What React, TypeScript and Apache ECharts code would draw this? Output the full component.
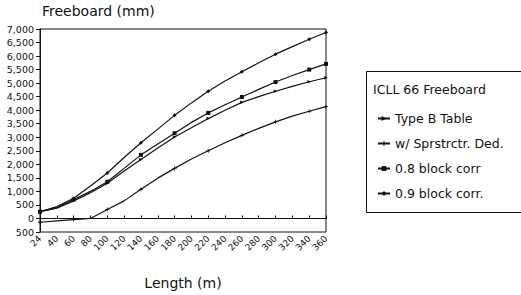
import React, { useEffect, useRef } from "react";
import * as echarts from "echarts";

const categories = ["24", "40", "60", "80", "100", "120", "140", "160", "180", "200", "220", "240", "260", "280", "300", "320", "340", "360"];
const typeBTable = [250, 380, 650, 950, 1300, 1750, 2180, 2600, 3010, 3350, 3690, 4000, 4290, 4500, 4700, 4880, 5050, 5200];
const sprstrctrDed = [-140, -90, -40, 0, 330, 650, 1080, 1490, 1850, 2200, 2500, 2800, 3070, 3330, 3570, 3780, 3960, 4130];
const block08 = [250, 400, 700, 1000, 1360, 1850, 2350, 2750, 3150, 3550, 3900, 4200, 4490, 4770, 5040, 5280, 5500, 5710];
const block09 = [250, 440, 750, 1200, 1680, 2250, 2800, 3300, 3810, 4270, 4700, 5080, 5420, 5750, 6070, 6350, 6620, 6870];

const FONT = "DejaVu Sans";
const INK = "#111";

export default function App() {
  const ref = useRef<HTMLDivElement>(null);
  useEffect(() => {
    if (!ref.current) return;
    const chart = echarts.init(ref.current, null, { renderer: "svg" });
    const sz = (n: number) => (_v: any, p: any) =>
      p.dataIndex % 2 === 0 || p.dataIndex === categories.length - 1 ? n : 0;
    const mk = (name: string, data: number[], symbol: string, size: number, rot = 0) => ({
      name,
      type: "line",
      data,
      symbol,
      symbolRotate: rot,
      symbolSize: sz(size),
      showSymbol: true,
      lineStyle: { color: INK, width: 1.2 },
      itemStyle: { color: INK },
      z: 3,
    });
    chart.setOption({
      animation: false,
      backgroundColor: "#fff",
      textStyle: { fontFamily: FONT, color: INK },
      grid: { left: 40, right: 195, top: 29, bottom: 56, show: true, borderColor: INK, borderWidth: 1, backgroundColor: "transparent" },
      xAxis: {
        type: "category",
        data: categories,
        boundaryGap: false,
        name: "Length (m)",
        nameLocation: "middle",
        nameGap: 44,
        nameTextStyle: { fontFamily: FONT, fontSize: 14, color: INK },
        axisLine: { lineStyle: { color: INK, width: 1 } },
        axisTick: { inside: true, length: 3, lineStyle: { color: INK } },
        axisLabel: { rotate: 45, fontSize: 9, color: INK, fontFamily: FONT, margin: 5, interval: 0 },
        splitLine: { show: false },
      },
      yAxis: {
        type: "value",
        min: -500,
        max: 7000,
        interval: 500,
        axisLine: { show: true, onZero: false, lineStyle: { color: INK, width: 1 } },
        axisTick: { show: true, length: 4, lineStyle: { color: INK } },
        axisLabel: {
          fontSize: 9.5,
          color: INK,
          fontFamily: FONT,
          margin: 6,
          formatter: (v: number) => Math.abs(v).toLocaleString("en-US"),
        },
        splitLine: { show: false },
      },
      legend: {
        orient: "vertical",
        left: 372,
        top: 107,
        itemWidth: 12,
        itemHeight: 6,
        itemGap: 12,
        textStyle: { fontFamily: FONT, fontSize: 12.5, color: INK },
        data: ["Type B Table", "w/ Sprstrctr. Ded.", "0.8 block corr", "0.9 block corr."],
      },
      graphic: [
        { type: "rect", left: 364, top: 69, shape: { width: 155, height: 141 }, style: { fill: "none", stroke: INK, lineWidth: 1 }, z: 0 },
        { type: "text", left: 373, top: 83, style: { text: "ICLL 66 Freeboard", fontFamily: FONT, fontSize: 12.5, fill: INK } },
        { type: "text", left: 42, top: 4, style: { text: "Freeboard (mm)", fontFamily: FONT, fontSize: 14, fill: INK } },
      ],
      series: [
        {
          ...mk("Type B Table", typeBTable, "triangle", 3.5, -90),
          markLine: {
            silent: true,
            symbol: "none",
            label: { show: false },
            lineStyle: { color: INK, width: 1.2, type: "solid" },
            data: [{ yAxis: 0 }],
          },
        },
        mk("w/ Sprstrctr. Ded.", sprstrctrDed, "path://M2,0H3V2H5V3H3V5H2V3H0V2H2Z", 4),
        mk("0.8 block corr", block08, "rect", 4),
        mk("0.9 block corr.", block09, "diamond", 4),
      ],
    });
    return () => chart.dispose();
  }, []);
  return <div ref={ref} style={{ width: 521, height: 295, position: "absolute", left: 0, top: 0 }} />;
}
